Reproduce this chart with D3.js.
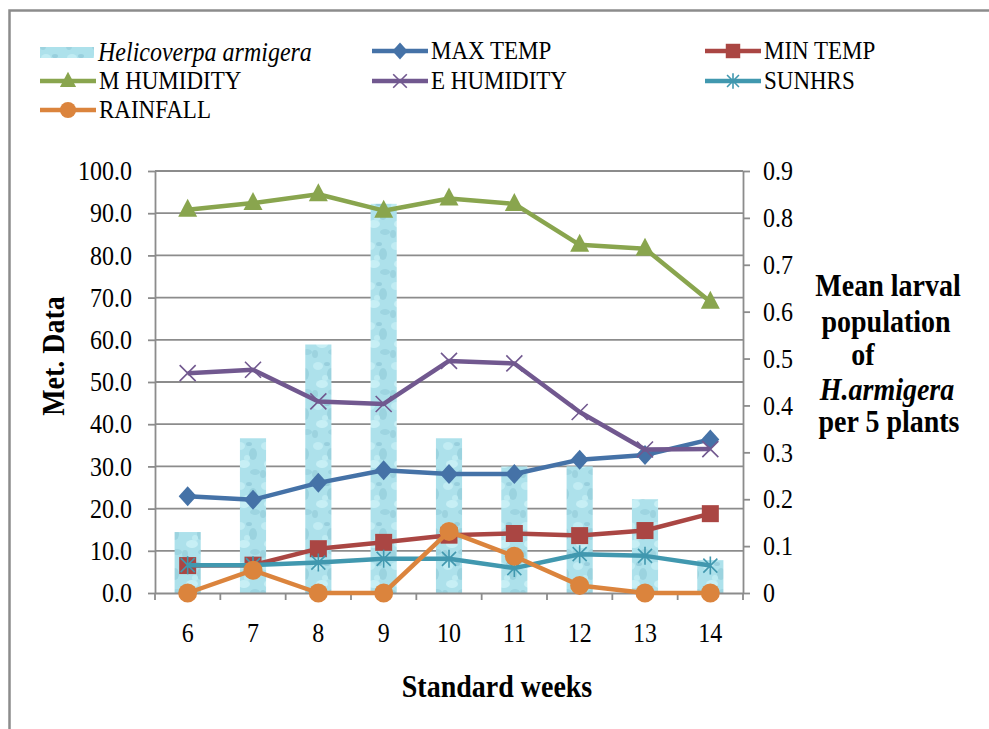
<!DOCTYPE html>
<html><head><meta charset="utf-8">
<script src="https://cdn.jsdelivr.net/npm/d3@7/dist/d3.min.js"></script>
<style>body{margin:0;background:#fff}svg{display:block}text{font-family:"Liberation Serif","Times New Roman",serif;fill:#000}</style>
</head><body><svg id="c" width="989" height="729"></svg>
<script>
const weeks = ["6","7","8","9","10","11","12","13","14"];
const larvae = [0.13, 0.33, 0.53, 0.83, 0.33, 0.27, 0.27, 0.20, 0.07];
const maxTemp = [22.9, 22.1, 26.1, 29.1, 28.2, 28.2, 31.6, 32.7, 36.4];
const minTemp = [6.5, 6.6, 10.5, 12.0, 13.7, 14.1, 13.6, 14.8, 18.8];
const mHumidity = [90.8, 92.4, 94.5, 90.6, 93.5, 92.2, 82.5, 81.6, 69.0];
const eHumidity = [52.1, 52.9, 45.4, 44.8, 55.0, 54.4, 42.9, 34.0, 34.1];
const sunHrs = [6.6, 6.6, 7.2, 8.1, 8.1, 5.9, 9.2, 8.8, 6.5];
const rainfall = [0.0, 5.4, 0.0, 0.0, 14.6, 8.7, 1.8, 0.0, 0.0];
const leftTicks = [0,10,20,30,40,50,60,70,80,90,100];
const rightTicks = [0,0.1,0.2,0.3,0.4,0.5,0.6,0.7,0.8,0.9];

const SY = 1.1; // vertical stretch of text as in reference
const svg = d3.select("#c");
const L = 155, R = 743, T = 171, B = 593;

// outer border
svg.append("rect").attr("x",9.5).attr("y",10.5).attr("width",1000).attr("height",800)
  .attr("fill","none").attr("stroke","#8c8c8c").attr("stroke-width",2.5);

// pattern for bars
const defs = svg.append("defs");
const pat = defs.append("pattern").attr("id","drops").attr("patternUnits","userSpaceOnUse")
  .attr("width",26).attr("height",40);
pat.append("rect").attr("width",26).attr("height",40).attr("fill","#ade1eb");
const blobs = [[6,6,5,4,"#c6eff5"],[19,14,4,6,"#96cfdc"],[10,24,6,4,"#cdf2f7"],[21,32,5,3,"#9ad2de"],[3,34,3,4,"#98cfdc"],[15,4,3,2,"#92cbd9"],[13,18,3,3,"#c2edf4"]];
blobs.forEach(b=>pat.append("ellipse").attr("cx",b[0]).attr("cy",b[1]).attr("rx",b[2]).attr("ry",b[3]).attr("fill",b[4]).attr("opacity",0.8));

const x = d3.scaleBand().domain(weeks).range([L,R]).paddingInner(0.6).paddingOuter(0.3);
const cx = d => x(d) + x.bandwidth()/2;
const yL = d3.scaleLinear().domain([0,100]).range([B,T]);
const yR = d3.scaleLinear().domain([0,0.9]).range([B,T]);

// gridlines
svg.append("g").selectAll("line").data(leftTicks.slice(1)).join("line")
  .attr("x1",L).attr("x2",R).attr("y1",d=>yL(d)).attr("y2",d=>yL(d))
  .attr("stroke","#8c8c8c").attr("stroke-width",1.8);

// bars
svg.append("g").selectAll("rect").data(larvae).join("rect")
  .attr("x",(d,i)=>x(weeks[i])).attr("width",x.bandwidth())
  .attr("y",d=>yR(d)).attr("height",d=>B-yR(d)).attr("fill","url(#drops)");

// axes
const axStyle = g => { g.selectAll("path,line").attr("stroke","#8c8c8c").attr("stroke-width",1.8);
  g.selectAll("text").style("font-family","'Liberation Serif',serif").style("font-size","24px").attr("fill","#000"); };
const stretchTicks = g => g.selectAll(".tick text").each(function(){
  const t = d3.select(this); const tx = +t.attr("x")||0; const ty = +t.attr("y")||0;
  t.attr("x",null).attr("y",null).attr("dy","0.33em").attr("transform",`translate(${tx},${ty}) scale(1,${SY})`);
});
svg.append("g").attr("transform",`translate(${L},0)`)
  .call(d3.axisLeft(yL).tickValues(leftTicks).tickFormat(d3.format(".1f")).tickSize(7).tickSizeOuter(0).tickPadding(16))
  .call(axStyle).call(stretchTicks);
svg.append("g").attr("transform",`translate(${R},0)`)
  .call(d3.axisRight(yR).tickValues(rightTicks).tickFormat(d=>d===0?"0":d3.format(".1f")(d)).tickSize(7).tickSizeOuter(0).tickPadding(13))
  .call(axStyle).call(stretchTicks);
const xa = svg.append("g").attr("transform",`translate(0,${B})`)
  .call(d3.axisBottom(x).tickSize(0).tickSizeOuter(0).tickPadding(40)).call(axStyle);
xa.selectAll(".tick text").attr("y",null).attr("dy","0.33em").attr("transform",`translate(0,40) scale(1,${SY})`);
svg.append("g").selectAll("line").data(d3.range(weeks.length+1)).join("line")
  .attr("x1",i=>L+i*x.step()).attr("x2",i=>L+i*x.step()).attr("y1",B).attr("y2",B+7)
  .attr("stroke","#8c8c8c").attr("stroke-width",1.8);

// series
const series = [
  {name:"MAX TEMP", data:maxTemp, color:"#4572a7", marker:"diamond"},
  {name:"MIN TEMP", data:minTemp, color:"#aa4643", marker:"square"},
  {name:"M HUMIDITY", data:mHumidity, color:"#89a54e", marker:"triangle"},
  {name:"E HUMIDITY", data:eHumidity, color:"#71588f", marker:"x"},
  {name:"SUNHRS", data:sunHrs, color:"#4198af", marker:"star"},
  {name:"RAINFALL", data:rainfall, color:"#db843d", marker:"circle"}
];
function drawMarker(g, type, color, s){
  s = s||1;
  if(type==="diamond") g.append("path").attr("d",`M0,${-10*s}L${9*s},0L0,${10*s}L${-9*s},0Z`).attr("fill",color);
  else if(type==="square") g.append("rect").attr("x",-8.5*s).attr("y",-8.5*s).attr("width",17*s).attr("height",17*s).attr("fill",color);
  else if(type==="triangle") g.append("path").attr("d",`M0,${-11*s}L${9.5*s},${7*s}L${-9.5*s},${7*s}Z`).attr("fill",color);
  else if(type==="circle") g.append("circle").attr("r",9.5*s).attr("fill",color);
  else if(type==="x") g.append("path").attr("d",`M${-8*s},${-8*s}L${8*s},${8*s}M${8*s},${-8*s}L${-8*s},${8*s}`).attr("stroke",color).attr("stroke-width",1.6);
  else if(type==="star") g.append("path").attr("d",`M${-7*s},${-7*s}L${7*s},${7*s}M${7*s},${-7*s}L${-7*s},${7*s}M0,${-9*s}L0,${9*s}`).attr("stroke",color).attr("stroke-width",1.6);
}
const line = d3.line().x((d,i)=>cx(weeks[i])).y(d=>yL(d));
series.forEach(s=>{
  const g = svg.append("g");
  g.append("path").datum(s.data).attr("d",line).attr("fill","none").attr("stroke",s.color)
    .attr("stroke-width",4.5).attr("stroke-linejoin","round");
  s.data.forEach((v,i)=>{
    const m = g.append("g").attr("transform",`translate(${cx(weeks[i])},${yL(v)})`);
    drawMarker(m, s.marker, s.color, 1);
  });
});

function stext(parent, txt, tx, ty, opts){
  opts = opts||{};
  const t = parent.append("text").attr("transform",`translate(${tx},${ty}) scale(1,${SY})${opts.rot?` rotate(${opts.rot})`:""}`)
    .attr("dy","0.33em").style("font-size",(opts.size||23)+"px").text(txt);
  if(opts.anchor) t.attr("text-anchor",opts.anchor);
  if(opts.italic) t.style("font-style","italic");
  if(opts.bold) t.style("font-weight","bold");
  return t;
}

// legend
const legend = [
  {name:"Helicoverpa armigera", bar:true, x:40, y:52},
  {s:series[0], x:372, y:51},{s:series[1], x:705, y:51},
  {s:series[2], x:40, y:81},{s:series[3], x:372, y:81},{s:series[4], x:705, y:81},
  {s:series[5], x:40, y:110}
];
legend.forEach(it=>{
  const g = svg.append("g").attr("transform",`translate(${it.x},${it.y})`);
  if(it.bar){
    g.append("rect").attr("x",0).attr("y",-5).attr("width",54).attr("height",11).attr("fill","url(#drops)");
    stext(g, it.name, 58, 0, {italic:true, size:24});
  } else {
    g.append("line").attr("x1",0).attr("x2",56).attr("stroke",it.s.color).attr("stroke-width",4.5);
    const m = g.append("g").attr("transform","translate(28,0)");
    drawMarker(m, it.s.marker, it.s.color, 0.85);
    stext(g, it.s.name, 59, 0, {size:23});
  }
});

// axis titles
svg.append("text").attr("transform",`translate(54,356) scale(${SY},1) rotate(-90)`).attr("dy","0.33em").attr("text-anchor","middle")
  .style("font-size","28px").style("font-weight","bold").text("Met. Data");
stext(svg, "Standard weeks", 497, 687, {size:28, bold:true, anchor:"middle"});
[["Mean larval",888,286,false],["population",886,322,false],["of",863,355,false],["H.armigera",887,390,true],["per 5 plants",889,422,false]]
  .forEach(l=>stext(svg, l[0], l[1], l[2], {size:28, bold:true, italic:l[3], anchor:"middle"}));
</script></body></html>
